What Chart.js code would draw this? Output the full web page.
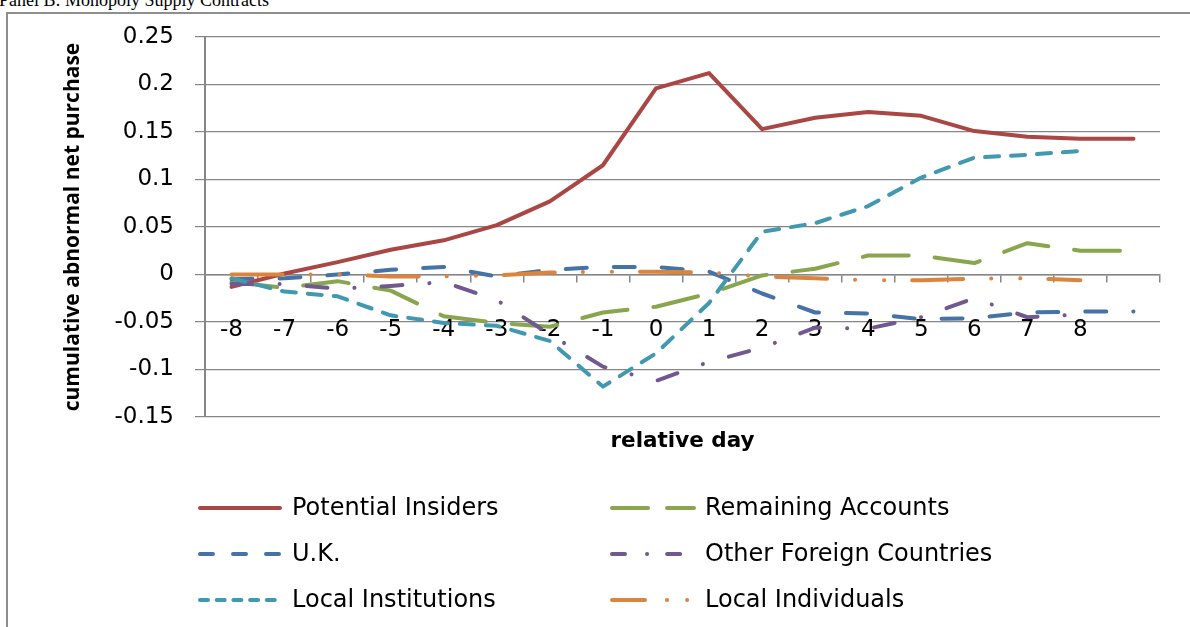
<!DOCTYPE html>
<html>
<head>
<meta charset="utf-8">
<script src="https://cdn.jsdelivr.net/npm/chart.js@4.4.1/dist/chart.umd.min.js"></script>
<style>
  html, body { margin: 0; padding: 0; background: #fff; width: 1190px; height: 627px; overflow: hidden; }
  #frame { position: absolute; left: 6px; top: 12px; width: 2000px; height: 2000px;
           border-left: 2px solid #8e8e8e; border-top: 2px solid #8e8e8e; }
  #panel { position: absolute; left: -1px; top: -9px; font: 18px "Liberation Serif", "Times New Roman", serif;
           line-height: 18px; white-space: nowrap; color: #000; }
  #c { position: absolute; left: 0; top: 0; }
</style>
</head>
<body>
<div id="frame"></div>
<div id="panel">Panel B: Monopoly Supply Contracts</div>
<canvas id="c" width="1190" height="627"></canvas>
<script>
// ---- data ----
const categories = ['-8','-7','-6','-5','-4','-3','-2','-1','0','1','2','3','4','5','6','7','8',''];
const potentialInsiders  = [-0.013, 0.001, 0.013, 0.026, 0.036, 0.052, 0.077, 0.115, 0.196, 0.212, 0.153, 0.165, 0.171, 0.167, 0.151, 0.145, 0.143, 0.143];
const remainingAccounts  = [-0.008, -0.014, -0.007, -0.017, -0.044, -0.051, -0.055, -0.040, -0.034, -0.020, -0.001, 0.006, 0.020, 0.020, 0.012, 0.033, 0.025, 0.025];
const uk                 = [-0.005, -0.004, 0.000, 0.005, 0.008, -0.002, 0.005, 0.008, 0.008, 0.003, -0.020, -0.040, -0.041, -0.047, -0.046, -0.040, -0.039, -0.039];
const otherForeign       = [-0.010, -0.010, -0.015, -0.012, -0.008, -0.027, -0.063, -0.097, -0.112, -0.092, -0.077, -0.056, -0.057, -0.045, -0.025, -0.045, -0.042, null];
const localInstitutions  = [-0.004, -0.018, -0.023, -0.043, -0.051, -0.054, -0.070, -0.118, -0.083, -0.030, 0.045, 0.054, 0.072, 0.102, 0.123, 0.126, 0.130, null];
const localIndividuals   = [0.000, 0.000, 0.000, -0.002, -0.002, -0.001, 0.002, 0.003, 0.003, 0.002, -0.002, -0.004, -0.006, -0.006, -0.0045, -0.004, -0.006, null];
const seriesNames = ['Potential Insiders', 'Remaining Accounts', 'U.K.', 'Other Foreign Countries', 'Local Institutions', 'Local Individuals'];
const yTickLabels = ['-0.15', '-0.1', '-0.05', '0', '0.05', '0.1', '0.15', '0.2', '0.25'];
const yMin = -0.15, yMax = 0.25, yStep = 0.05;

// ---- styles ----
const seriesData = [potentialInsiders, remainingAccounts, uk, otherForeign, localInstitutions, localIndividuals];
const seriesStyles = [
  { color: '#AA4643', dash: [], legendDash: [] },
  { color: '#89A54E', dash: [46, 26], legendDash: [36, 19] },
  { color: '#4572A7', dash: [21, 27], legendDash: [13, 20] },
  { color: '#71588F', dash: [21, 27, 0.1, 27], legendDash: [13, 22, 0.1, 20] },
  { color: '#4198AF', dash: [14, 12], legendDash: [8, 8.7] },
  { color: '#DB843D', dash: [51, 28, 0.1, 29, 0.1, 28], legendDash: [33, 22, 0.1, 20, 0.1, 20] }
];

const datasets = seriesData.map((d, i) => ({
  label: seriesNames[i],
  data: d,
  borderColor: seriesStyles[i].color,
  backgroundColor: seriesStyles[i].color,
  borderWidth: 4,
  borderDash: seriesStyles[i].dash,
  legendDash: seriesStyles[i].legendDash,
  borderCapStyle: 'round',
  borderJoinStyle: 'round',
  pointRadius: 0,
  pointHoverRadius: 0,
  tension: 0,
  fill: false,
  spanGaps: false,
  order: seriesData.length - 1 - i
}));

const gridLegend = {
  id: 'gridLegend',
  afterDraw(chart) {
    const ctx = chart.ctx;
    const cols = [{ x0: 198, x1: 282, tx: 292 }, { x0: 610, x1: 696, tx: 705 }];
    const rows = [508, 554, 600];
    chart.data.datasets.forEach((ds, i) => {
      const col = cols[i % 2];
      const y = rows[Math.floor(i / 2)];
      ctx.save();
      ctx.strokeStyle = ds.borderColor;
      ctx.lineWidth = ds.borderWidth;
      ctx.lineCap = 'round';
      ctx.setLineDash(ds.legendDash);
      ctx.beginPath();
      ctx.moveTo(col.x0 + 2, y);
      ctx.lineTo(col.x1 - 2, y);
      ctx.stroke();
      ctx.setLineDash([]);
      ctx.fillStyle = '#000';
      ctx.font = '24px "DejaVu Sans"';
      ctx.textBaseline = 'middle';
      ctx.textAlign = 'left';
      ctx.fillText(ds.label, col.tx, y + 1);
      ctx.restore();
    });
  }
};

new Chart(document.getElementById('c'), {
  type: 'line',
  data: { labels: categories, datasets },
  options: {
    responsive: false,
    devicePixelRatio: 1,
    animation: false,
    events: [],
    layout: { padding: { left: 0, top: 37, right: 30, bottom: 210 } },
    plugins: { legend: { display: false }, tooltip: { enabled: false }, title: { display: false } },
    scales: {
      x: {
        type: 'category',
        axis: 'x',
        position: { y: 0 },
        offset: true,
        grid: { display: true, drawOnChartArea: false, drawTicks: true, tickLength: 7, color: '#868686', lineWidth: 1.5, offset: true },
        border: { display: true, color: '#868686', width: 1.5 },
        ticks: { autoSkip: false, maxRotation: 0, minRotation: 0, padding: 35, color: '#000', font: { family: 'DejaVu Sans', size: 23 } },
        title: { display: true, text: 'relative day', color: '#000', font: { family: 'DejaVu Sans', weight: 'bold', size: 21.5 }, padding: { top: 49, bottom: 0 } }
      },
      y: {
        min: yMin, max: yMax,
        afterFit(scale) { scale.width = 205; },
        grid: { color: '#868686', lineWidth: 1.2, drawTicks: true, tickLength: 10 },
        border: { display: true, color: '#868686', width: 2 },
        ticks: {
          stepSize: yStep, padding: 21, color: '#000', font: { family: 'DejaVu Sans', size: 23 },
          callback: (v) => yTickLabels[Math.round((v - yMin) / yStep)]
        },
        title: { display: true, text: 'cumulative abnormal net purchase', color: '#000', font: { family: 'Open Sans', weight: 'bold', size: 21 }, padding: { top: 60, bottom: 0 } }
      }
    }
  },
  plugins: [gridLegend]
});
</script>
</body>
</html>
